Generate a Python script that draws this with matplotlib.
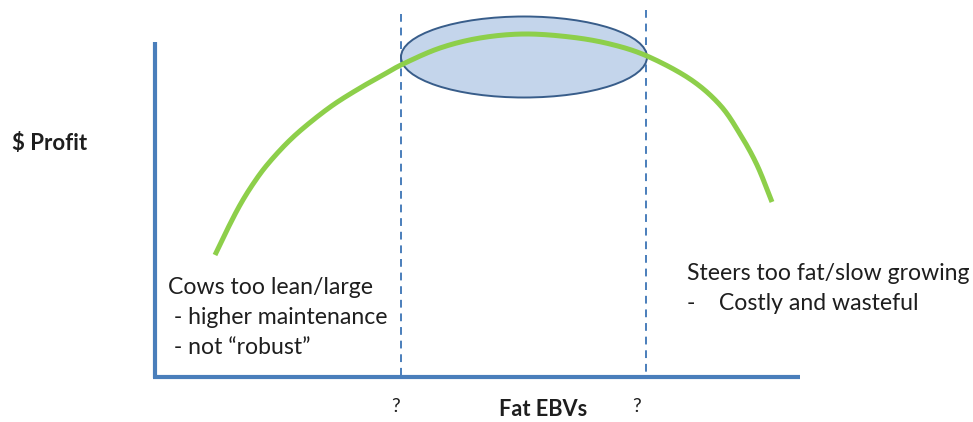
import numpy as np
import matplotlib
matplotlib.use("Agg")
import matplotlib.pyplot as plt
from matplotlib.patches import Ellipse

# Profit curve versus fat EBVs (canvas units, y grows downward)
curve_x = [215, 227, 240, 253, 267, 287, 307, 333, 360, 383, 403, 440, 480, 524, 570, 610, 647, 690, 720, 740, 757, 772]
curve_y = [255, 230, 205, 184, 165, 143, 125, 105, 88, 75, 64, 48, 38, 34, 37, 44, 56, 79, 105, 134, 165, 202]

# Axes frame
yaxis_x, yaxis_top, yaxis_bottom = 155, 42, 378
xaxis_y, xaxis_left, xaxis_right = 377, 153, 800

# Optimum window boundaries
bound_x = [401, 646]
bound_top = [14, 10]

# Optimum zone ellipse
zone_center = (524, 57)
zone_size = (246, 81)

left_note = ["Cows too lean/large", " - higher maintenance", " - not \u201crobust\u201d"]
right_note = ["Steers too fat/slow growing", "-    Costly and wasteful"]
ylabel = "$ Profit"
xlabel = "Fat EBVs"
bound_labels = ["?", "?"]


def smooth_path(xs, ys, steps=20):
    """Catmull-Rom spline through the given points, for a smooth stroke."""
    p = np.column_stack([xs, ys]).astype(float)
    p = np.vstack([2 * p[0] - p[1], p, 2 * p[-1] - p[-2]])
    out = []
    t = np.linspace(0, 1, steps, endpoint=False)[:, None]
    for i in range(1, len(p) - 2):
        p0, p1, p2, p3 = p[i - 1], p[i], p[i + 1], p[i + 2]
        seg = 0.5 * ((2 * p1) + (-p0 + p2) * t
                     + (2 * p0 - 5 * p1 + 4 * p2 - p3) * t ** 2
                     + (-p0 + 3 * p1 - 3 * p2 + p3) * t ** 3)
        out.append(seg)
    out.append(p[-2][None, :])
    out = np.vstack(out)
    return out[:, 0], out[:, 1]


plt.rcParams['font.family'] = ['Lato', 'DejaVu Sans']

fig = plt.figure(figsize=(9.73, 4.22), dpi=100)
ax = fig.add_axes([0, 0, 1, 1])
ax.set_xlim(0, 973)
ax.set_ylim(422, 0)
ax.axis('off')

blue = '#4a7ebb'
ax.plot([yaxis_x, yaxis_x], [yaxis_top, yaxis_bottom], color=blue, lw=3.0, solid_capstyle='butt')
ax.plot([xaxis_left, xaxis_right], [xaxis_y, xaxis_y], color=blue, lw=3.0, solid_capstyle='butt')

for bx, bt in zip(bound_x, bound_top):
    ax.plot([bx, bx], [bt, xaxis_y], color=blue, lw=1.4, dashes=(4, 3))

ax.add_patch(Ellipse(zone_center, zone_size[0], zone_size[1],
                     facecolor='#c4d5eb', edgecolor='#385d8a', lw=1.4, zorder=3))

sx, sy = smooth_path(curve_x, curve_y)
ax.plot(sx, sy, color='#8dcf4a', lw=3.6, solid_capstyle='butt',
        solid_joinstyle='round', zorder=4)

txt = '#1e1e1e'
for i, line in enumerate(left_note):
    ax.text(168, 288 + i * 30, line, fontsize=16.6, color=txt, va='center', ha='left')
for i, line in enumerate(right_note):
    ax.text(687, 274 + i * 29, line, fontsize=16.6, color=txt, va='center', ha='left')

ax.text(12, 143, ylabel, fontsize=16, fontweight='bold', color=txt, va='center', ha='left')
ax.text(499, 410, xlabel, fontsize=15.7, fontweight='bold', color=txt, va='center', ha='left')
for bx, lab in zip([396, 637], bound_labels):
    ax.text(bx, 407, lab, fontsize=14, color=txt, va='center', ha='center')

fig.savefig('out.png', dpi=100)
